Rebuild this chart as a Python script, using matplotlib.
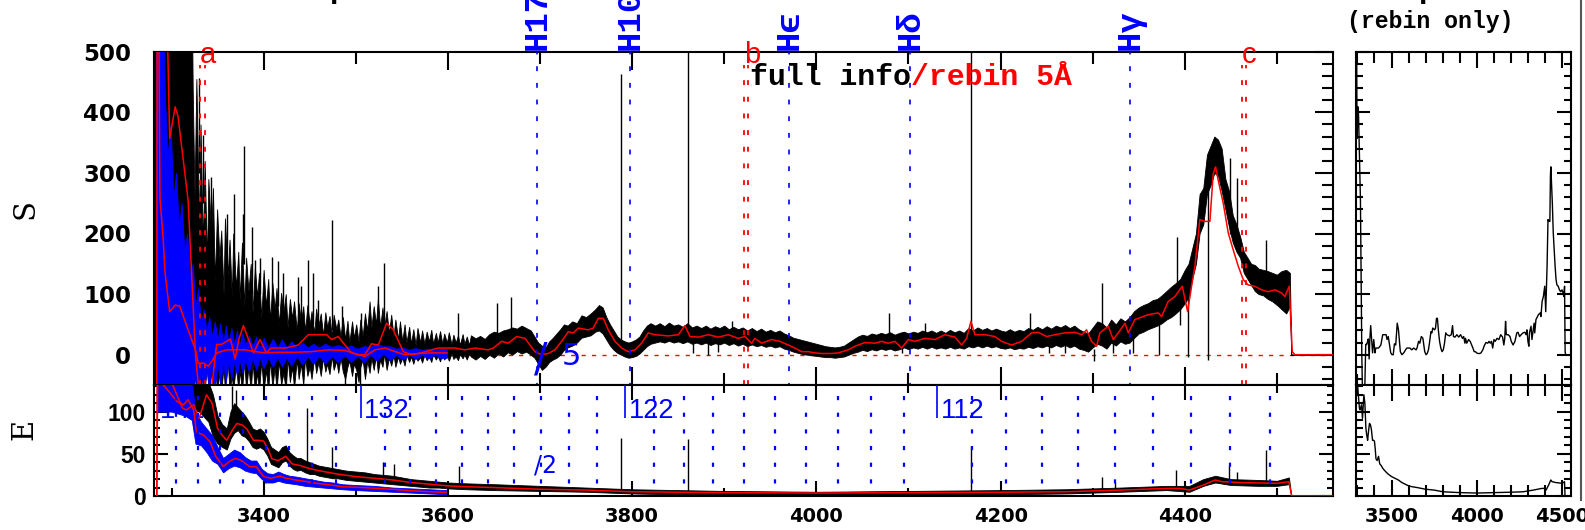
import matplotlib
matplotlib.use("Agg")
import matplotlib.pyplot as plt
from matplotlib.ticker import MultipleLocator
import matplotlib.transforms as mtransforms

plt.rcParams['lines.scale_dashes'] = False

# ------------------------------------------------------------------ data
main_xlim = (3281.0, 4560.5)
side_xlim = (3292.0, 4551.0)
s_ylim = (-50, 500)
e_ylim = (0, 131.5)

# black "full info" S spectrum: envelope (wavelength, low, high)
s_full_band = [
    (3281.5, -60, 600), (3322, -60, 600),
    (3323, -60, 440), (3325, -20, 260), (3327, -60, 455), (3330, -10, 210), (3331.5, -60, 380),
    (3334, -30, 180), (3336, -60, 320), (3338.5, -15, 150), (3340, -60, 290), (3343, -25, 200),
    (3345, -60, 275), (3347, -10, 120), (3349.5, -60, 240), (3352, -30, 160), (3354, -60, 205),
    (3356.5, -20, 100), (3358, -60, 225), (3361, -10, 130), (3363, -60, 190), (3365.5, -35, 95),
    (3367, -60, 200), (3370, -15, 110), (3372.5, -60, 170), (3374, -25, 90), (3376.5, -60, 185),
    (3379, -10, 80), (3381, -60, 160), (3383.5, -20, 105), (3386, -60, 150), (3388, -12, 70),
    (3390.5, -60, 145), (3393, -30, 95), (3395, -60, 135), (3397.5, -10, 60), (3400, -60, 140),
    (3402.5, -25, 80), (3405, -60, 125), (3407, -8, 55), (3409.5, -55, 118), (3412, -20, 75),
    (3414, -60, 110), (3416.5, -10, 50), (3419, -50, 102), (3421.5, -30, 70), (3424, -60, 100),
    (3426, -5, 45), (3428.5, -45, 92), (3431, -20, 60), (3433, -55, 88), (3436, -8, 40),
    (3438, -40, 85), (3440.5, -15, 55), (3443, -50, 80), (3445, -5, 38), (3447.5, -35, 82),
    (3450, -20, 50), (3452, -40, 72), (3455, -3, 35), (3457, -30, 76), (3459.5, -12, 48),
    (3462, -35, 68), (3464.5, -5, 32), (3467, -28, 70), (3469, -15, 45), (3471.5, -32, 64),
    (3474, -2, 30), (3476, -25, 66), (3479, -10, 42), (3481, -30, 58), (3483.5, -5, 30),
    (3486, -28, 62), (3488.5, -40, 25), (3491, -20, 56), (3493, -10, 20), (3496, -35, 55),
    (3498, -15, 28), (3500.5, -25, 50), (3503, -45, 22), (3505, -20, 58), (3507.5, -8, 30),
    (3510, -40, 68), (3512.5, -10, 40), (3515, -30, 88), (3517, -5, 45), (3519.5, -25, 80),
    (3522, 0, 50), (3524, -30, 92), (3526.5, -8, 45), (3529, -20, 78), (3531, 2, 48),
    (3533.5, -25, 72), (3536, -5, 35), (3538.5, -18, 66), (3541, 0, 30), (3543, -20, 58),
    (3546, -3, 25), (3548, -15, 55), (3550.5, -5, 22), (3553, -18, 50), (3555, 0, 20),
    (3558, -12, 46), (3560, -3, 18), (3562.5, -15, 42), (3565, 0, 16), (3567, -10, 44),
    (3570, -4, 20), (3572, -13, 40), (3574.5, 0, 18), (3577, -9, 38), (3579.5, -3, 22),
    (3582, -12, 41), (3584, 1, 18), (3587, -8, 36), (3589, -2, 20), (3591.5, -11, 39),
    (3594, 2, 18), (3596, -8, 35), (3599, -1, 20), (3601, -10, 37), (3604, 2, 17),
    (3606, -7, 33), (3608.5, -3, 20), (3611, -9, 32), (3613, 1, 16), (3616, -6, 34),
    (3618, 0, 18), (3620.5, -8, 30), (3623, 2, 16),
    (3625, -3, 32), (3630, -8, 27), (3635, -2, 31),
    (3640, -7, 26), (3645, 0, 34), (3650, -5, 38), (3655, 2, 36), (3660, -3, 40),
    (3665, 4, 42), (3670, 0, 45), (3675, 6, 43), (3680, 2, 48), (3685, 5, 44),
    (3690, 0, 40), (3694, -5, 30), (3698, -15, 20), (3702, -25, 15), (3706, -20, 12),
    (3710, -12, 22), (3714, -8, 28), (3718, -5, 35), (3722, 0, 42), (3726, 8, 50),
    (3730, 12, 48), (3735, 15, 55), (3740, 20, 52), (3745, 28, 65), (3750, 30, 62),
    (3755, 32, 68), (3760, 38, 75), (3764, 40, 82), (3768, 35, 78), (3772, 25, 62),
    (3776, 15, 50), (3780, 8, 40), (3784, 3, 30), (3788, 0, 25), (3792, -3, 22),
    (3796, -5, 20), (3800, -4, 22), (3804, -2, 25), (3808, 2, 30), (3812, 8, 40),
    (3816, 14, 48), (3820, 18, 52), (3825, 20, 48), (3830, 22, 52), (3835, 20, 47),
    (3840, 23, 53), (3845, 20, 48), (3850, 22, 50), (3855, 19, 46), (3860, 22, 52),
    (3865, 18, 45), (3870, 20, 48), (3875, 17, 44), (3880, 20, 48), (3885, 16, 43),
    (3890, 19, 47), (3895, 17, 44), (3900, 20, 48), (3905, 16, 42), (3910, 19, 46),
    (3915, 15, 42), (3920, 18, 45), (3925, 14, 40), (3930, 17, 44), (3935, 14, 39),
    (3940, 16, 43), (3945, 13, 38), (3950, 15, 41), (3955, 12, 37), (3960, 14, 40),
    (3965, 10, 35), (3970, 8, 32), (3975, 5, 28), (3980, 3, 26), (3985, 1, 24),
    (3990, 0, 22), (3995, -1, 20), (4000, -2, 18), (4005, -3, 16), (4010, -4, 14),
    (4015, -4, 13), (4020, -5, 12), (4025, -4, 13), (4030, -3, 15), (4035, 0, 20),
    (4040, 3, 25), (4045, 5, 30), (4050, 8, 33), (4055, 6, 31), (4060, 9, 35),
    (4065, 7, 33), (4070, 10, 36), (4075, 8, 34), (4080, 10, 37), (4085, 7, 33),
    (4090, 9, 36), (4095, 12, 38), (4100, 9, 35), (4105, 12, 38), (4110, 10, 36),
    (4115, 13, 40), (4120, 10, 37), (4125, 13, 40), (4130, 10, 36), (4135, 12, 40),
    (4140, 10, 36), (4145, 13, 41), (4150, 10, 37), (4155, 12, 40), (4160, 10, 36),
    (4165, 14, 44), (4170, 12, 40), (4175, 15, 45), (4180, 12, 41), (4185, 15, 44),
    (4190, 12, 40), (4195, 14, 43), (4200, 11, 40), (4205, 10, 38), (4210, 12, 42),
    (4215, 9, 38), (4220, 11, 41), (4225, 10, 39), (4230, 13, 44), (4235, 11, 41),
    (4240, 14, 46), (4245, 12, 42), (4250, 15, 47), (4255, 12, 43), (4260, 16, 48),
    (4265, 13, 45), (4270, 16, 49), (4275, 12, 44), (4280, 15, 48), (4285, 10, 42),
    (4290, 8, 38), (4295, 5, 35), (4300, 12, 45), (4305, 18, 55), (4310, 15, 52),
    (4315, 10, 45), (4320, 20, 58), (4325, 15, 50), (4330, 22, 60), (4335, 18, 55),
    (4340, 20, 62), (4345, 28, 72), (4350, 35, 78), (4355, 38, 82), (4360, 42, 85),
    (4365, 45, 90), (4370, 48, 92), (4375, 52, 98), (4380, 58, 105), (4385, 62, 112),
    (4390, 68, 118), (4395, 75, 125), (4400, 85, 140), (4404, 95, 150), (4408, 125, 175),
    (4412, 150, 200), (4416, 200, 265), (4420, 215, 275), (4424, 265, 330), (4428, 280, 345),
    (4432, 300, 360), (4436, 295, 355), (4440, 270, 340), (4444, 240, 290), (4448, 210, 270),
    (4452, 185, 230), (4456, 170, 215), (4460, 160, 195), (4464, 135, 170), (4468, 125, 160),
    (4472, 115, 150), (4476, 105, 148), (4480, 100, 142), (4485, 98, 140), (4490, 92, 138),
    (4495, 88, 135), (4500, 82, 132), (4505, 75, 138), (4510, 68, 140), (4514, 80, 135),
    (4515.5, 0, 0), (4560.5, 0, 0),
]
# isolated spikes of the S spectrum (wavelength, from, to)
s_full_spikes = [
    (3330.2, 300, 456), (3334.5, 250, 363), (3342.8, 200, 294), (3359.8, 100, 233),
    (3368.2, 150, 266), (3377.9, 150, 233), (3379.0, 150, 344), (3387.0, 100, 211),
    (3390.6, 100, 157), (3396.0, 100, 160), (3408.7, 60, 162), (3416.0, 80, 154),
    (3421.0, 50, 135), (3436.8, 60, 129), (3441.0, 40, 113), (3448.5, 50, 157),
    (3454.0, 50, 135), (3459.0, 40, 91), (3473.8, 40, 222), (3484.7, 30, 80),
    (3506.0, 30, 69), (3524.5, 50, 113), (3531.0, 50, 151), (3611.3, 10, 69),
    (3652.9, 20, 85), (3668.5, 20, 96), (3787.5, 10, 464), (3860.2, 25, 520),
    (3908.0, 20, 55), (4078.9, 20, 69), (4117.9, 20, 52), (4167.8, 25, 520),
    (4231.8, 25, 69), (4310.3, 30, 118), (4391.0, 90, 195), (4449.0, 200, 324),
    (4456.2, 180, 291), (4487.6, 100, 190),
    (3488.0, -50, 0), (3505.0, -50, 0), (3866.4, 3, 20), (3882.7, 0, 20), (3893.5, 5, 20),
    (4093.0, 3, 15), (4252.0, 3, 20), (4270.0, 3, 20), (4301.0, -11, 10), (4322.0, 3, 20),
    (4344.0, 3, 30), (4372.0, 0, 55), (4394.7, 49, 80), (4403.7, -3, 95), (4425.4, -8, 280),
]
# red "rebin 5A" S curve
s_rebin_wave = [3284, 3284.5, 3295, 3296, 3298, 3304, 3307, 3318, 3326, 3331, 3340, 3344, 3349,
                3354, 3360, 3364, 3369, 3373, 3378, 3389, 3396, 3403, 3408, 3424, 3437.6, 3448.5,
                3459.3, 3468.4, 3473.8, 3481, 3488.3, 3495.5, 3502.8, 3510, 3517.2, 3524.5,
                3533.5, 3540.7, 3551.6, 3560.6, 3571.5, 3582.3, 3589.6, 3598.6, 3607.7, 3618.6,
                3629.4, 3643.9, 3649.3, 3658.4, 3665.6, 3674.6, 3683.7, 3694.5, 3701.8, 3709,
                3716.2, 3723.5, 3730.7, 3736.1, 3741.6, 3752.4, 3757.8, 3763.3, 3768.7, 3774.1,
                3781.4, 3788.6, 3795.8, 3803.1, 3810.3, 3817.5, 3824.8, 3839.2, 3850.1, 3857.3,
                3862.8, 3871.8, 3882.7, 3893.5, 3904.4, 3915.2, 3922.5, 3929.7, 3933.3, 3940.6,
                3951.4, 3960.5, 3969.5, 3976.7, 3984, 3991.2, 3998.4, 4005.7, 4016.5, 4023.8,
                4034.6, 4041.9, 4052.7, 4063.6, 4070.8, 4078, 4085.3, 4092.5, 4099.8, 4107,
                4117.9, 4128.7, 4139.6, 4150.4, 4157.7, 4163.1, 4167.8, 4172.1, 4183, 4193.8,
                4201.1, 4211.9, 4222.8, 4233.6, 4240.9, 4249.9, 4259, 4269.8, 4280.7, 4287.9,
                4293.3, 4298.8, 4304.2, 4307.8, 4316.9, 4322.3, 4327.7, 4335, 4338.6, 4345.8,
                4360.3, 4371.1, 4374.7, 4382, 4389.2, 4397.2, 4403, 4407.3, 4410.9, 4416.3,
                4421.8, 4427.2, 4430.8, 4433.4, 4436.2, 4441.7, 4447.1, 4452.5, 4458, 4463.4,
                4468.8, 4476, 4483.3, 4490.5, 4497.8, 4505, 4508.6, 4513.3, 4516.6, 4519.5, 4560.5]
s_rebin_val = [-60, 700, 700, 500, 357, 409, 394, 255, 0, -80, -80, -49, 17,
               17, 22, 26, -7, 25, 48, 3, 25, 3, 11, 11, 16, 33,
               33, 33, 25, 30, 16, 3, 0, 0, 18, 16,
               52, 41, 5, 0, 3, 8, 11, 11, 11, 8,
               11, 8, 11, 22, 19, 30, 27, 5, 0, 2,
               8, 22, 38, 36, 44, 41, 44, 60, 60, 41,
               22, 11, 5, 8, 19, 36, 33, 31, 33, 48,
               30, 29, 33, 29, 33, 27, 30, 19, 27, 19,
               25, 22, 16, 11, 5, 5, 3, 2, 2, 3,
               8, 14, 20, 19, 22, 19, 22, 11, 25, 22,
               27, 25, 33, 29, 16, 27, 55, 33, 33, 30,
               22, 16, 22, 36, 37, 30, 33, 36, 37, 33,
               41, 22, 14, 36, 47, 25, 36, 52, 36, 58,
               66, 69, 63, 88, 96, 113, 71, 113, 146, 223,
               220, 220, 299, 310, 288, 250, 201, 173, 146, 124,
               115, 113, 107, 104, 107, 102, 96, 113, 5, 0, 0]

# blue S/5 spectrum envelope (wavelength, low, high) and its rebinned curve
s_div5_band = [
    (3283, -60, 600), (3290, -60, 600), (3293, -60, 420), (3296, -60, 330), (3299, -60, 380),
    (3302, -60, 260), (3305, -60, 300), (3308, -60, 210), (3311, -60, 250), (3314, -60, 170),
    (3317, -60, 200), (3320, -60, 130), (3323, -60, 150), (3326, -40, 80), (3329, -60, 110),
    (3332, -30, 50), (3335, -60, 75), (3338, -25, 40), (3341, -60, 62), (3344, -20, 30),
    (3347, -55, 55), (3350, -15, 25), (3353, -50, 52), (3356, -12, 20), (3359, -45, 48),
    (3362, -10, 20), (3365, -40, 44), (3368, -10, 18), (3371, -35, 40), (3374, -8, 15),
    (3377, -30, 36), (3380, -8, 16), (3384, -28, 32), (3388, -6, 14), (3392, -25, 30),
    (3396, -5, 12), (3400, -22, 28), (3405, -5, 12), (3410, -20, 26), (3415, -4, 12),
    (3420, -20, 25), (3425, -4, 12), (3430, -18, 22), (3436, -3, 12), (3442, -16, 20),
    (3448, -3, 12), (3454, -15, 18), (3460, -2, 12), (3467, -14, 18), (3474, -2, 13),
    (3481, -12, 16), (3488, -1, 12), (3495, -12, 15), (3502, -2, 10), (3509, -12, 14),
    (3516, 0, 13), (3523, -10, 18), (3530, 2, 14), (3537, -9, 14), (3544, 0, 10),
    (3551, -8, 12), (3558, 0, 8), (3565, -7, 11), (3572, 0, 8), (3579, -6, 10),
    (3586, 0, 7), (3593, -6, 10), (3599, -5, 9),
]
s_div5_rebin_wave = [3285.5, 3287.5, 3291, 3293, 3298, 3304, 3309, 3318, 3326, 3329, 3335, 3340,
                     3345, 3349, 3360, 3380, 3391, 3401, 3416, 3434, 3452, 3470, 3488, 3503,
                     3510, 3521, 3532, 3543, 3553, 3568, 3582, 3599]
s_div5_rebin_val = [700, 258, 190, 135, 71, 82, 80, 41, 8, -14, -14, -19,
                    -8, 3, 8, 8, 5, 3, 4, 4, 5, 8, 7, 0,
                    -3, 8, 11, 5, 0, 2, 3, 3]

# black E spectrum envelope, spikes, rebinned curve
e_full_band = [
    (3284, 105, 140), (3320, 105, 140), (3330, 100, 140), (3340, 88, 135), (3345, 70, 120),
    (3350, 62, 95), (3355, 58, 85), (3360, 55, 80), (3364, 68, 100), (3368, 75, 110),
    (3372, 78, 105), (3376, 72, 100), (3380, 70, 95), (3384, 65, 88), (3388, 58, 80),
    (3392, 56, 78), (3396, 58, 80), (3400, 55, 76), (3404, 48, 68), (3408, 38, 58),
    (3412, 36, 55), (3416, 34, 52), (3420, 40, 58), (3424, 42, 60), (3428, 36, 52),
    (3432, 32, 48), (3436, 30, 45), (3440, 31, 45), (3445, 28, 42), (3450, 26, 40),
    (3455, 26, 38), (3460, 24, 36), (3465, 23, 35), (3470, 22, 34), (3475, 21, 33),
    (3480, 21, 32), (3490, 19, 30), (3500, 18, 29), (3510, 17, 28), (3520, 16, 26),
    (3530, 15, 25), (3540, 14, 24), (3550, 13, 22), (3560, 12, 20), (3570, 11, 19),
    (3580, 10, 18), (3590, 10, 17), (3600, 9, 16), (3620, 8, 15), (3650, 7, 14),
    (3700, 6, 12), (3750, 5, 10), (3800, 3, 8), (3850, 2, 7), (3900, 2, 6),
    (4000, 1, 5), (4100, 2, 6), (4200, 2, 7), (4270, 3, 8), (4330, 5, 10),
    (4380, 7, 12), (4405, 5, 12), (4420, 12, 20), (4433, 16, 24), (4450, 13, 20),
    (4480, 12, 19), (4500, 12, 18), (4513, 14, 22), (4515.5, 0, 0), (4560.5, 0, 0),
]
e_full_spikes = [
    (3366.0, 90, 130), (3370.5, 90, 125), (3447.0, 35, 104), (3474.0, 25, 58),
    (3530.0, 20, 40), (3541.0, 18, 38), (3612.0, 10, 35),
    (3787.5, 4, 69), (3860.2, 4, 67.5), (4167.8, 4, 59.5), (4310.0, 5, 22), (4324.6, 6, 17),
    (4390.0, 9, 31), (4448.0, 16, 35), (4456.6, 16, 29), (4487.6, 15, 55),
]
e_rebin_wave = [3284, 3284.6, 3300, 3306, 3312, 3316, 3324, 3330, 3338, 3344, 3350, 3355, 3360,
                3366, 3371, 3377, 3382, 3389, 3395, 3400, 3405, 3409, 3416, 3424, 3431, 3440,
                3448, 3456, 3465, 3480, 3500, 3520, 3540, 3560, 3580, 3600, 3620, 3650, 3700,
                3750, 3800, 3900, 4000, 4100, 4200, 4270, 4330, 4380, 4395, 4405, 4420, 4433,
                4440, 4460, 4480, 4500, 4513, 4516, 4560.5]
e_rebin_val = [0, 140, 135, 119, 104, 102, 108, 92, 120, 110, 80, 72, 66,
               78, 86, 84, 79, 66, 66, 65, 55, 44, 42, 47, 38, 36,
               33, 31, 29, 26, 23, 21, 19, 16, 14, 12, 11, 10, 8,
               7, 5, 4, 3.5, 4, 4.5, 5, 7, 9, 9, 7, 13, 19,
               17, 16, 15.5, 15, 17, 0, 0]

# blue E/2 spectrum envelope and its rebinned curve
e_div2_band = [
    (3284, 100, 140), (3300, 100, 140), (3315, 95, 140), (3322, 90, 135), (3326, 62, 100),
    (3332, 60, 88), (3338, 52, 80), (3344, 42, 72), (3350, 38, 58), (3356, 28, 45),
    (3362, 33, 50), (3368, 36, 55), (3374, 34, 52), (3380, 30, 46), (3386, 28, 42),
    (3392, 27, 42), (3398, 20, 32), (3404, 16, 27), (3410, 16, 26), (3416, 18, 29),
    (3422, 16, 26), (3428, 15, 24), (3435, 14, 23), (3445, 12, 21), (3455, 11, 19),
    (3465, 10, 17), (3475, 9, 16), (3485, 8, 14), (3500, 7, 13), (3520, 6, 12),
    (3540, 5, 10), (3560, 4, 9), (3580, 3, 8), (3598, 2, 7),
]
e_div2_rebin_wave = [3284, 3285, 3306, 3313, 3318, 3324, 3327, 3335, 3342, 3348, 3356, 3363, 3369,
                     3375, 3385, 3392, 3400, 3408, 3418, 3424, 3435, 3447, 3458, 3474, 3485,
                     3501, 3524, 3540, 3560, 3579, 3598]
e_div2_rebin_val = [0, 140, 112, 108, 114, 102, 76, 72, 64, 47, 35, 41, 44.5,
                    42.6, 34.7, 34.7, 23, 21, 23.7, 21, 19, 17, 15, 13, 11,
                    10.3, 9, 7.9, 6.3, 5.1, 4.3]

# line markers
balmer_wave = [3697.15, 3797.90, 3970.07, 4101.74, 4340.47]
balmer_label = ['H17', 'H10', 'H\u03f5', 'H\u03b4', 'H\u03b3']
mark_wave = [(3331.0, 3336.4), (3921.4, 3926.1), (4461.6, 4466.3)]
mark_label = ['a', 'b', 'c']
order_wave = [3305.0, 3328.8, 3352.9, 3377.4, 3402.2, 3427.4, 3453.0, 3478.9, 3532.1,
              3559.2, 3586.8, 3614.8, 3643.3, 3672.2, 3701.6, 3731.5, 3761.8, 3824.0,
              3855.8, 3888.2, 3921.2, 3954.7, 3988.8, 4023.5, 4058.8, 4094.7, 4168.5,
              4206.4, 4245.0, 4284.3, 4324.3, 4365.1, 4406.7, 4449.0, 4492.2]
order_label_wave = [3284.0, 3505.3, 3792.6, 4131.3]
order_label = ['142', '132', '122', '112']

# fragments of a header line that lies above the figure border (pixel x, text, colour)
header_cut = [(118, '/', '#0000ff'), (339, 'p', 'k'), (1428, 'p', 'k')]

# ------------------------------------------------------------------ figure
W, H = 1585, 530
fig = plt.figure(figsize=(W / 100, H / 100), dpi=100)


def fx(px):
    return px / W


def fy(py):
    return 1 - py / H


L, R = 154.0, 1332.7
T, M, B = 51.7, 385.0, 496.0
RL, RR = 1356.0, 1571.0

axS = fig.add_axes([fx(L), fy(M), fx(R) - fx(L), fy(T) - fy(M)])
axE = fig.add_axes([fx(L), fy(B), fx(R) - fx(L), fy(M) - fy(B)])
axRS = fig.add_axes([fx(RL), fy(M), fx(RR) - fx(RL), fy(T) - fy(M)])
axRE = fig.add_axes([fx(RL), fy(B), fx(RR) - fx(RL), fy(M) - fy(B)])

BLUE = '#0000ff'
RED = '#ff0000'
tickfont = dict(family='DejaVu Sans', weight='bold')
tickfont_e = dict(family='Liberation Sans', weight='bold')
MONO = ['Liberation Mono', 'DejaVu Sans Mono']


def unzip3(rows):
    return [r[0] for r in rows], [r[1] for r in rows], [r[2] for r in rows]


def style(ax, xmaj, xmin, ymaj, ymin, xl, xs, yl, ys):
    for sp in ax.spines.values():
        sp.set_linewidth(1.5)
    ax.xaxis.set_major_locator(MultipleLocator(xmaj))
    ax.xaxis.set_minor_locator(MultipleLocator(xmin))
    ax.yaxis.set_major_locator(MultipleLocator(ymaj))
    ax.yaxis.set_minor_locator(MultipleLocator(ymin))
    ax.tick_params(axis='x', which='major', direction='in', top=True, bottom=True,
                   length=xl, width=1.5)
    ax.tick_params(axis='x', which='minor', direction='in', top=True, bottom=True,
                   length=xs, width=1.5)
    ax.tick_params(axis='y', which='major', direction='in', left=True, right=True,
                   length=yl, width=1.5)
    ax.tick_params(axis='y', which='minor', direction='in', left=True, right=True,
                   length=ys, width=1.5)


blend = mtransforms.blended_transform_factory

# ---------------- S panel
w, lo, hi = unzip3(s_full_band)
axS.fill_between(w, lo, hi, color='k', lw=0.6, zorder=2)
w, lo, hi = unzip3(s_full_spikes)
axS.vlines(w, lo, hi, color='k', lw=1.0, zorder=2)
w, lo, hi = unzip3(s_div5_band)
axS.fill_between(w, lo, hi, color=BLUE, lw=0.6, zorder=3)
axS.plot(s_rebin_wave, s_rebin_val, color=RED, lw=1.1, zorder=4)
axS.plot(s_div5_rebin_wave, s_div5_rebin_val, color=RED, lw=1.1, zorder=4)
axS.axhline(0, color=RED, lw=1.0, linestyle=(0, (3, 4.5)), zorder=1)

trS = blend(axS.transData, axS.transAxes)
for wl, lab in zip(balmer_wave, balmer_label):
    axS.axvline(wl, color=BLUE, lw=1.2, linestyle=(2, (3.5, 8.5)), zorder=5)
    axS.text(wl, 1.004, lab, transform=trS, rotation=90, ha='center', va='bottom',
             color=BLUE, fontsize=24.5, family=MONO, weight='bold', clip_on=False)

for (w1, w2), lab in zip(mark_wave, mark_label):
    for wl in (w1, w2):
        axS.axvline(wl, ymax=0.96, color=RED, lw=1.3, linestyle=(0, (3.5, 8.5)), zorder=5)
    axS.text(w1, 0.966, lab, transform=trS, ha='left', va='baseline', color=RED,
             fontsize=21, family='Liberation Sans', clip_on=False, zorder=6)

# "/5" marker of the blue (divided by 5) curve
axS.text(3694.0, -27.0, '/', color=BLUE, fontsize=29, family='DejaVu Sans',
         ha='left', va='baseline', zorder=6)
axS.text(3724.0, -16.5, '5', color=BLUE, fontsize=22, family='DejaVu Sans',
         ha='left', va='baseline', zorder=6)

axS.set_xlim(*main_xlim)
axS.set_ylim(*s_ylim)
style(axS, 200, 100, 100, 20, 13, 8.4, 12.7, 8)
axS.tick_params(labelbottom=False)
for t in axS.get_yticklabels():
    t.set_fontproperties(tickfont)
    t.set_fontsize(16.5)
axS.tick_params(axis='y', pad=16.5)

# ---------------- E panel
w, lo, hi = unzip3(e_full_band)
axE.fill_between(w, lo, hi, color='k', lw=0.6, zorder=2)
w, lo, hi = unzip3(e_full_spikes)
axE.vlines(w, lo, hi, color='k', lw=1.0, zorder=2)
w, lo, hi = unzip3(e_div2_band)
axE.fill_between(w, lo, hi, color=BLUE, lw=0.6, zorder=3)
axE.plot(e_rebin_wave, e_rebin_val, color=RED, lw=1.1, zorder=4)
axE.plot(e_div2_rebin_wave, e_div2_rebin_val, color=RED, lw=1.1, zorder=4)

axE.vlines(order_wave, e_ylim[0], e_ylim[1], color=BLUE, lw=1.6,
           linestyles=[(3, (3.0, 9.0))], zorder=5)
for wl, lab in zip(order_label_wave, order_label):
    if wl > main_xlim[0] + 5:
        axE.vlines([wl], 92.5, e_ylim[1], color=BLUE, lw=1.2, zorder=5)
    axE.text(wl + 3.5, 92.5, lab, color=BLUE, fontsize=19.5, family='Liberation Sans',
             ha='left', va='baseline', zorder=1)
axE.text(3693.5, 28.4, '/2', color=BLUE, fontsize=17, family='DejaVu Sans',
         ha='left', va='baseline', zorder=6)

axE.set_xlim(*main_xlim)
axE.set_ylim(*e_ylim)
style(axE, 200, 100, 50, 10, 10.8, 5.8, 9.8, 4.6)
for t in axE.get_yticklabels():
    t.set_fontproperties(tickfont_e)
    t.set_fontsize(16.5)
for t in axE.get_xticklabels():
    t.set_fontproperties(tickfont)
    t.set_fontsize(14)
axE.tick_params(axis='y', pad=6)
axE.tick_params(axis='x', pad=8)

# ---------------- side panels (rebin only)
axRS.plot(s_rebin_wave, s_rebin_val, color='k', lw=1.0)
axRS.set_xlim(*side_xlim)
axRS.set_ylim(*s_ylim)
style(axRS, 500, 100, 100, 20, 11.5, 8, 10, 5)
axRS.tick_params(labelbottom=False, labelleft=False)

axRE.plot(e_rebin_wave, e_rebin_val, color='k', lw=1.0)
axRE.set_xlim(*side_xlim)
axRE.set_ylim(*e_ylim)
style(axRE, 500, 100, 50, 10, 11.5, 8, 10, 5)
axRE.tick_params(labelleft=False)
for t in axRE.get_xticklabels():
    t.set_fontproperties(tickfont)
    t.set_fontsize(14)
axRE.tick_params(axis='x', pad=8)

# ---------------- labels and captions
fig.text(fx(25), fy(209), 'S', rotation=90, ha='center', va='center', fontsize=21,
         family='DejaVu Serif')
fig.text(fx(24), fy(429), 'E', rotation=90, ha='center', va='center', fontsize=21,
         family='DejaVu Serif')

t1 = fig.text(fx(750), fy(85), 'full info', color='k', fontsize=21.5,
              family=MONO, weight='bold', ha='left', va='baseline', zorder=10)
fig.canvas.draw()
bb = t1.get_window_extent()
fig.text(bb.x1 / W, fy(85), '/rebin 5\u00c5', color=RED, fontsize=21.5,
         family=MONO, weight='bold', ha='left', va='baseline', zorder=10)

fig.text(fx(1347), fy(21.5), '(rebin only)', color='k', fontsize=16.7,
         family=MONO, weight='bold', ha='left', va='center')

for px, txt, col in header_cut:
    fig.text(fx(px), fy(-1.5), txt, color=col, fontsize=21.5, family=MONO, weight='bold',
             ha='center', va='baseline')

# edge of a neighbouring panel, cut by the figure border
fig.add_artist(plt.Line2D([fx(1581), fx(1581)], [fy(500), fy(0)], color='#555555', lw=1.5))

fig.savefig('out.png', dpi=100)
